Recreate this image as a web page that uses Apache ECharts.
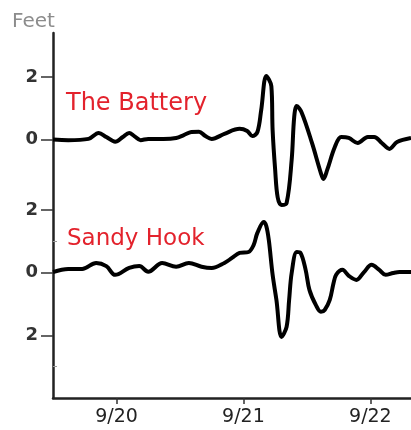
<!DOCTYPE html>
<html>
<head>
<meta charset="utf-8">
<title>Tide gauges</title>
<script src="https://cdn.jsdelivr.net/npm/echarts@6/dist/echarts.min.js"></script>
<style>
  html, body { margin: 0; padding: 0; background: #fff; }
  #chart { width: 411px; height: 430px; }
</style>
</head>
<body>
<div id="chart"></div>
<script>
// water level (feet), time in days of September
const batteryDays = [19.5, 19.62, 19.78, 19.86, 19.92, 19.99, 20.05, 20.10, 20.14, 20.19, 20.25, 20.37, 20.47, 20.53, 20.59, 20.65, 20.70, 20.75, 20.85, 20.97, 21.03, 21.07, 21.11, 21.14, 21.18, 21.22, 21.23, 21.25, 21.27, 21.30, 21.34, 21.38, 21.40, 21.42, 21.46, 21.54, 21.61, 21.63, 21.66, 21.72, 21.77, 21.83, 21.90, 21.98, 22.03, 22.09, 22.15, 22.21, 22.32];
const batteryFeet = [0, -0.02, 0.02, 0.21, 0.08, -0.07, 0.08, 0.21, 0.11, -0.02, 0.02, 0.02, 0.05, 0.14, 0.24, 0.25, 0.11, 0.02, 0.18, 0.34, 0.27, 0.11, 0.24, 0.94, 2.03, 1.70, 0.30, -0.97, -1.85, -2.09, -2.03, -0.65, 0.72, 1.07, 0.85, -0.11, -1.07, -1.26, -0.97, -0.24, 0.08, 0.05, -0.11, 0.08, 0.08, -0.11, -0.30, -0.08, 0.05];

const sandyDays = [19.5, 19.62, 19.73, 19.84, 19.92, 19.99, 20.10, 20.18, 20.25, 20.36, 20.47, 20.57, 20.67, 20.75, 20.85, 20.91, 20.97, 21.04, 21.08, 21.11, 21.16, 21.18, 21.20, 21.23, 21.26, 21.30, 21.34, 21.36, 21.38, 21.42, 21.45, 21.49, 21.52, 21.57, 21.61, 21.64, 21.68, 21.71, 21.73, 21.78, 21.83, 21.89, 21.95, 22.01, 22.07, 22.12, 22.18, 22.23, 22.32];
const sandyFeet = [0.02, 0.12, 0.12, 0.31, 0.21, -0.07, 0.15, 0.21, 0.03, 0.31, 0.19, 0.31, 0.19, 0.15, 0.31, 0.47, 0.63, 0.66, 0.88, 1.27, 1.62, 1.49, 1.04, -0.07, -0.87, -2.05, -1.73, -0.87, -0.01, 0.66, 0.63, 0.09, -0.55, -1.03, -1.25, -1.19, -0.87, -0.33, -0.07, 0.09, -0.10, -0.23, 0.02, 0.25, 0.09, -0.07, -0.01, 0.02, 0.02];

// the Battery trace is stacked above Sandy Hook
const batteryOffset = 4.25;

const xTickValues = [20, 21, 22];
const xTickLabels = ['9/20', '9/21', '9/22'];

const sandyTickFeet = [-2, 0, 2];
const sandyTickLabels = ['2', '0', '2'];
const batteryTickFeet = [0, 2];
const batteryTickLabels = ['0', '2'];

const yTickValues = sandyTickFeet.concat(batteryTickFeet.map(v => v + batteryOffset));
const yTickLabels = sandyTickLabels.concat(batteryTickLabels);

const chart = echarts.init(document.getElementById('chart'));

const zip = (xs, ys, off) => xs.map((x, i) => [x, ys[i] + off]);

chart.setOption({
  animation: false,
  grid: { left: 53, right: 0, top: 33, bottom: 32 },
  xAxis: {
    type: 'value',
    min: 19.5,
    max: 22.32,
    splitLine: { show: false },
    axisLine: { onZero: false, lineStyle: { color: '#222', width: 2.5 } },
    axisTick: { customValues: xTickValues, length: 6, lineStyle: { color: '#333', width: 1.5 } },
    axisLabel: {
      customValues: xTickValues,
      margin: 10,
      fontFamily: 'DejaVu Sans',
      fontSize: 19,
      color: '#222',
      formatter: v => xTickLabels[xTickValues.indexOf(v)]
    }
  },
  yAxis: [{
    type: 'value',
    min: -4,
    max: 7.65,
    splitLine: { show: false },
    axisLine: { show: true, lineStyle: { color: '#222', width: 2.5 } },
    axisTick: { show: true, customValues: yTickValues, length: 12, lineStyle: { color: '#333', width: 1.5 } },
    axisLabel: {
      customValues: yTickValues,
      margin: 15,
      fontFamily: 'DejaVu Sans',
      fontWeight: 'bold',
      fontSize: 18,
      color: '#333',
      formatter: v => {
        const i = yTickValues.findIndex(t => Math.abs(t - v) < 1e-6);
        return i < 0 ? '' : yTickLabels[i];
      }
    }
  }, {
    type: 'value',
    min: -4,
    max: 7.65,
    position: 'left',
    splitLine: { show: false },
    axisLine: { show: false },
    axisLabel: { show: false },
    axisTick: { show: true, inside: true, customValues: [-3, 1], length: 4, lineStyle: { color: '#999', width: 1 } }
  }],
  graphic: [
    { type: 'text', left: 12, top: 12, style: { text: 'Feet', fontFamily: 'DejaVu Sans', fontSize: 20, fill: '#8c8c8c' } },
    { type: 'text', left: 66, top: 92, style: { text: 'The Battery', fontFamily: 'DejaVu Sans', fontSize: 24, fill: '#e3222c' } },
    { type: 'text', left: 67, top: 228, style: { text: 'Sandy Hook', fontFamily: 'DejaVu Sans', fontSize: 23, fill: '#e3222c' } }
  ],
  series: [{
    name: 'The Battery',
    type: 'line',
    data: zip(batteryDays, batteryFeet, batteryOffset),
    smooth: 0.35,
    showSymbol: false,
    lineStyle: { color: '#000', width: 4 }
  }, {
    name: 'Sandy Hook',
    type: 'line',
    data: zip(sandyDays, sandyFeet, 0),
    smooth: 0.35,
    showSymbol: false,
    lineStyle: { color: '#000', width: 4 }
  }]
});
</script>
</body>
</html>
